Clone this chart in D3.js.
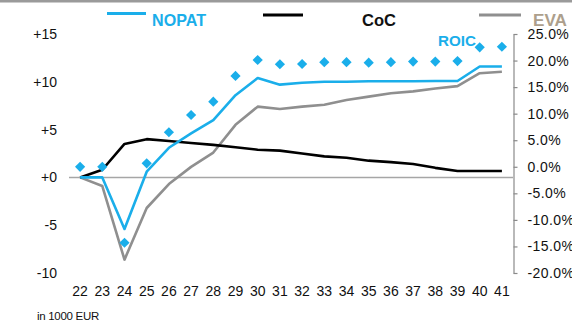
<!DOCTYPE html>
<html><head><meta charset="utf-8">
<script src="https://cdn.jsdelivr.net/npm/d3@7"></script>
<style>
html,body{margin:0;padding:0;background:#fff;}
svg{display:block;font-family:"Liberation Sans",Arial,sans-serif;}
</style></head>
<body>
<svg id="c" width="572" height="320"></svg>
<script>
const years = ["22","23","24","25","26","27","28","29","30","31","32","33","34","35","36","37","38","39","40","41"];
const nopat = [0,0,-5.4,0.6,3.1,4.6,6.0,8.6,10.4,9.7,9.9,10.0,10.0,10.05,10.05,10.05,10.08,10.08,11.6,11.6];
const coc   = [0,0.8,3.5,4.0,3.8,3.6,3.4,3.15,2.9,2.8,2.5,2.2,2.05,1.75,1.6,1.4,1.0,0.67,0.67,0.67];
const eva   = [0,-0.9,-8.6,-3.2,-0.7,1.1,2.6,5.5,7.4,7.15,7.4,7.6,8.1,8.45,8.8,9.0,9.3,9.55,10.9,11.05];
const roic  = [0,0,-14.3,0.65,6.5,9.75,12.25,17.1,20.1,19.3,19.35,19.7,19.7,19.6,19.7,19.8,19.8,19.9,22.5,22.6];
const leftTicks = [-10,-5,0,5,10,15];
const rightTicks = [-20,-15,-10,-5,0,5,10,15,20,25];

const CYAN = "#1aaeea", GRAY = "#8f8f8f", BLACK = "#000";
const svg = d3.select("#c");

// top border
svg.append("rect").attr("x",0).attr("y",0).attr("width",572).attr("height",2.5).attr("fill","#9a9a9a");

const x = d3.scaleBand().domain(years).range([69,513]);
const yL = d3.scaleLinear().domain([-10,15]).range([273,34]);
const yR = d3.scaleLinear().domain([-20,25]).range([273,34]);
const cx = d => x(d) + x.bandwidth()/2;

// left axis labels
const gL = svg.append("g").attr("transform","translate(57,0)")
  .call(d3.axisLeft(yL).tickValues(leftTicks).tickSize(0).tickPadding(0)
    .tickFormat(d => d >= 0 ? "+" + d : String(d)));
gL.select(".domain").remove();
gL.selectAll("text").attr("font-size",14).attr("fill","#111").attr("font-family","Liberation Sans, Arial, sans-serif");

// right axis
const gR = svg.append("g").attr("transform","translate(513.5,0)")
  .call(d3.axisRight(yR).tickValues(rightTicks).tickSize(4).tickSizeOuter(0).tickPadding(10)
    .tickFormat(d => d.toFixed(1) + "%"));
gR.select(".domain").attr("stroke","#8a8a8a").attr("stroke-width",1.2);
gR.selectAll(".tick line").attr("stroke","#8a8a8a").attr("stroke-width",1.2);
gR.selectAll("text").attr("font-size",14).attr("fill","#111").attr("letter-spacing","0.4")
  .attr("font-family","Liberation Sans, Arial, sans-serif");

// x axis labels
const gX = svg.append("g").attr("transform","translate(0,280)")
  .call(d3.axisBottom(x).tickSize(0).tickPadding(6));
gX.select(".domain").remove();
gX.selectAll("text").attr("font-size",14).attr("fill","#111").attr("font-family","Liberation Sans, Arial, sans-serif");

// zero line
svg.append("line").attr("x1",69).attr("x2",513).attr("y1",yL(0)).attr("y2",yL(0))
  .attr("stroke","#a6a6a6").attr("stroke-width",1.5);

const line = arr => d3.line().x((d,i)=>cx(years[i])).y(d=>yL(d))(arr);

svg.append("path").attr("d",line(eva)).attr("fill","none").attr("stroke",GRAY).attr("stroke-width",2.6).attr("stroke-linejoin","round");
svg.append("path").attr("d",line(coc)).attr("fill","none").attr("stroke",BLACK).attr("stroke-width",2.6).attr("stroke-linejoin","round");
svg.append("path").attr("d",line(nopat)).attr("fill","none").attr("stroke",CYAN).attr("stroke-width",2.6).attr("stroke-linejoin","round");

// ROIC diamonds
const sym = d3.symbol(d3.symbolSquare, 52)();
svg.append("g").selectAll("path").data(roic).join("path")
  .attr("d", sym)
  .attr("transform",(d,i)=>`translate(${cx(years[i])},${yR(d)}) rotate(45)`)
  .attr("fill", CYAN);

// legend
const leg = [
  {name:"NOPAT", color:CYAN, tcolor:CYAN, x1:107, x2:146, ly:13.5, tx:152, tw:54},
  {name:"CoC", color:BLACK, tcolor:"#111", x1:263, x2:303, ly:15, tx:362, tw:34},
  {name:"EVA", color:GRAY, tcolor:"#ad9f8c", x1:479, x2:521, ly:15, tx:533, tw:34}
];
leg.forEach(l => {
  svg.append("line").attr("x1",l.x1).attr("x2",l.x2).attr("y1",l.ly).attr("y2",l.ly)
    .attr("stroke",l.color).attr("stroke-width",3);
  svg.append("text").attr("x",l.tx).attr("y",26).text(l.name)
    .attr("font-size",17).attr("font-weight","bold").attr("fill",l.tcolor)
    .attr("textLength",l.tw).attr("lengthAdjust","spacingAndGlyphs");
});

// ROIC label
svg.append("text").attr("x",438).attr("y",45.5).text("ROIC")
  .attr("font-size",14).attr("font-weight","bold").attr("fill",CYAN)
  .attr("textLength",38).attr("lengthAdjust","spacingAndGlyphs");

// unit label
svg.append("text").attr("x",37).attr("y",320).text("in 1000 EUR")
  .attr("font-size",11.5).attr("fill","#111").attr("letter-spacing","-0.3");
</script>
</body></html>
